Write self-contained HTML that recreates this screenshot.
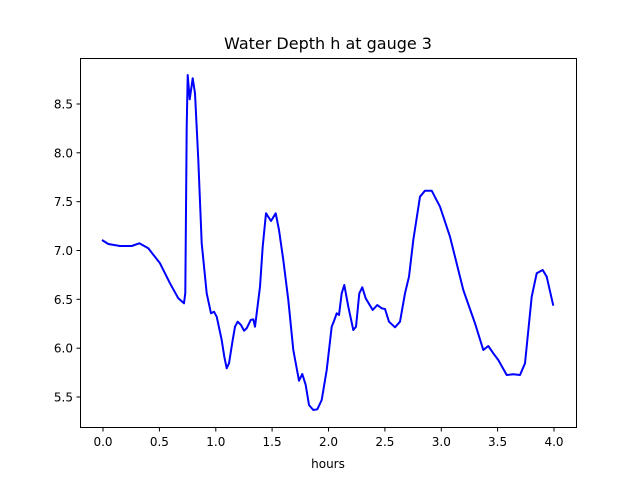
<!DOCTYPE html>
<html><head><meta charset="utf-8"><style>
body{margin:0;background:#fff;}
svg{font-family:"DejaVu Sans","Liberation Sans",sans-serif;}
</style></head><body>
<svg width="640" height="480" xmlns="http://www.w3.org/2000/svg">
<rect width="640" height="480" fill="#fff"/>
<text x="328" y="49" font-size="16" text-anchor="middle">Water Depth h at gauge 3</text>
<polyline fill="none" stroke="#0000ff" stroke-width="2" stroke-linejoin="round" points="102,240 108.3,244 120,246 131.7,246 139.3,243.3 148.3,248.3 160,263.3 170,283.3 178.3,298.3 184,303.3 185.3,293 186.7,126.7 187.7,75 189.7,99.3 192.7,78.3 195,93.3 198.3,160 201.7,243.3 206.7,293.3 211,313.3 214,311.7 216.7,316.7 221.7,340 224.3,356.7 226.7,368.3 229,363.3 232.7,340 235,326.7 237.7,321.7 241,325 244,330.7 246.7,328.3 250.7,320 253.3,319.3 255,326.7 256.7,313.3 260,286.7 262.7,246.7 266,213.3 271,221 275.7,213.3 279,230 283.3,260 288.3,300 293.3,350 299,380.7 302.3,374 305.7,385 309,405 313.3,410 317.3,409.3 321.7,400 326.7,370 331.7,326.7 334,321 336.7,313.3 339,315 341.7,293.3 344.3,285 348.3,306.7 353.3,330 356,326.7 359.3,293.3 362.3,287.3 365.7,298.3 372.7,310 377.3,305 381.7,308.3 385,309 389,321.7 395,327.3 400,321.7 405,293.3 409,276.7 413.3,240 420,196.7 425,190.7 431.7,190.7 440,206.7 450,236.7 463.3,290 475,323.3 483.3,350 488.3,346 493.3,353.3 498.3,360 506.7,375 513.3,374.3 520,375 525,363.3 531.7,296.7 536.7,273.3 542.7,270 546.7,276.7 553.3,305.7"/>
<rect x="80.5" y="58.5" width="496" height="369" fill="none" stroke="#000" stroke-width="1"/>
<g font-size="12" fill="#000" stroke="none">
<g stroke="#000">
<line x1="103" y1="428" x2="103" y2="431.5"/><line x1="159.4" y1="428" x2="159.4" y2="431.5"/><line x1="215.8" y1="428" x2="215.8" y2="431.5"/><line x1="272.1" y1="428" x2="272.1" y2="431.5"/><line x1="328.5" y1="428" x2="328.5" y2="431.5"/><line x1="384.9" y1="428" x2="384.9" y2="431.5"/><line x1="441.3" y1="428" x2="441.3" y2="431.5"/><line x1="497.6" y1="428" x2="497.6" y2="431.5"/><line x1="554" y1="428" x2="554" y2="431.5"/>
<line x1="76.5" y1="397" x2="80" y2="397"/><line x1="76.5" y1="348.2" x2="80" y2="348.2"/><line x1="76.5" y1="299.3" x2="80" y2="299.3"/><line x1="76.5" y1="250.5" x2="80" y2="250.5"/><line x1="76.5" y1="201.7" x2="80" y2="201.7"/><line x1="76.5" y1="152.8" x2="80" y2="152.8"/><line x1="76.5" y1="104" x2="80" y2="104"/>
</g>
<g text-anchor="middle">
<text x="103" y="446">0.0</text><text x="159.4" y="446">0.5</text><text x="215.8" y="446">1.0</text><text x="272.1" y="446">1.5</text><text x="328.5" y="446">2.0</text><text x="384.9" y="446">2.5</text><text x="441.3" y="446">3.0</text><text x="497.6" y="446">3.5</text><text x="554" y="446">4.0</text>
</g>
<g text-anchor="end">
<text x="73" y="401.5">5.5</text><text x="73" y="352.7">6.0</text><text x="73" y="303.8">6.5</text><text x="73" y="255">7.0</text><text x="73" y="206.2">7.5</text><text x="73" y="157.3">8.0</text><text x="73" y="108.5">8.5</text>
</g>
</g>
<text x="328" y="468" font-size="12" text-anchor="middle">hours</text>
</svg>
</body></html>
